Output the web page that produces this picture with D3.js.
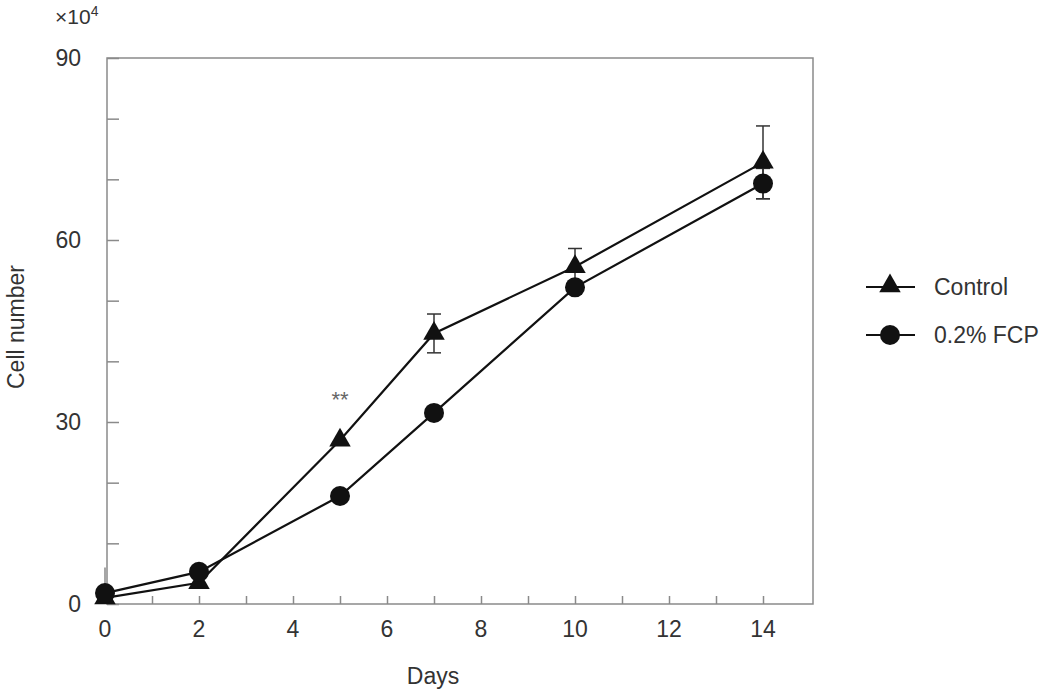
<!DOCTYPE html>
<html>
  <head>
    <script src="https://d3js.org/d3.v7.min.js"></script>
    <style>
      body { margin: 0; background: #fff; }
      text { font-family: "Liberation Sans", Arial, sans-serif; fill: #333; }
    </style>
  </head>
  <body>
    <div id="chart"></div>
    <script>
      // Data (cell number, x10^4)
      const days = [0, 2, 5, 7, 10, 14];
      const control = [1.0, 3.5, 27.0, 44.6, 55.6, 72.8];
      const controlErr = [5.0, 0, 0, 3.2, 3.0, 6.0];
      const fcp = [1.8, 5.3, 17.8, 31.5, 52.2, 69.3];
      const fcpErr = [0, 0, 0, 0, 0, 2.5];
      const xTicks = [0, 2, 4, 6, 8, 10, 12, 14];
      const yTicks = [0, 30, 60, 90];

      const W = 1050, H = 692;
      const svg = d3.select("#chart").append("svg")
        .attr("width", W).attr("height", H);

      const x = d3.scaleLinear().domain([0, 15]).range([105, 810]);
      const y = d3.scaleLinear().domain([0, 90]).range([604, 58]);
      const axisColor = "#8a8a8a";
      const fs = 23;

      // plot frame
      svg.append("rect")
        .attr("x", 107).attr("y", y(90))
        .attr("width", 813 - 107).attr("height", y(0) - y(90))
        .attr("fill", "none").attr("stroke", axisColor).attr("stroke-width", 1.5);

      // y axis, ticks pointing inside
      const yAxis = svg.append("g").attr("transform", "translate(107,0)")
        .call(d3.axisRight(y).tickValues(d3.range(0, 91, 10)).tickSize(12).tickFormat(""));
      yAxis.select(".domain").remove();
      yAxis.selectAll("line").attr("stroke", axisColor).attr("stroke-width", 1.5);
      svg.selectAll(".ylab").data(yTicks).enter().append("text")
        .attr("x", 81).attr("y", d => y(d)).attr("dy", "0.35em")
        .attr("text-anchor", "end").attr("font-size", fs).text(d => d);

      // x axis, ticks pointing up
      const xAxis = svg.append("g").attr("transform", `translate(0,${y(0)})`)
        .call(d3.axisTop(x).tickValues(d3.range(1, 15, 1)).tickSize(8).tickFormat(""));
      xAxis.select(".domain").remove();
      xAxis.selectAll("line").attr("stroke", axisColor).attr("stroke-width", 1.5);
      svg.selectAll(".xlab").data(xTicks).enter().append("text")
        .attr("x", d => x(d)).attr("y", 629).attr("dy", "0.35em")
        .attr("text-anchor", "middle").attr("font-size", fs).text(d => d);

      // axis titles
      svg.append("text").attr("x", 433).attr("y", 676).attr("dy", "0.35em")
        .attr("text-anchor", "middle").attr("font-size", fs).text("Days");
      svg.append("text")
        .attr("transform", "translate(16,327) rotate(-90)").attr("dy", "0.35em")
        .attr("text-anchor", "middle").attr("font-size", fs).text("Cell number");
      const mult = svg.append("text").attr("x", 55).attr("y", 24).attr("font-size", 21);
      mult.append("tspan").text("×10");
      mult.append("tspan").attr("font-size", 14).attr("dy", -8).text("4");

      // error bars
      function errorBars(vals, errs, capW) {
        days.forEach((d, i) => {
          if (!errs[i]) return;
          const cx = x(d), top = y(vals[i] + errs[i]), bot = y(Math.max(0, vals[i] - errs[i]));
          svg.append("line").attr("x1", cx).attr("x2", cx).attr("y1", top).attr("y2", bot)
            .attr("stroke", d === 0 ? "#888" : "#333").attr("stroke-width", 1.5);
          if (d !== 0) {
            [top, bot].forEach(yy => svg.append("line")
              .attr("x1", cx - capW).attr("x2", cx + capW).attr("y1", yy).attr("y2", yy)
              .attr("stroke", "#333").attr("stroke-width", 1.5));
          }
        });
      }
      errorBars(control, controlErr, 7);
      errorBars(fcp, fcpErr, 7);

      const line = d3.line().x(d => x(d[0])).y(d => y(d[1]));
      const ctlPts = days.map((d, i) => [d, control[i]]);
      const fcpPts = days.map((d, i) => [d, fcp[i]]);

      svg.append("path").datum(ctlPts).attr("d", line)
        .attr("fill", "none").attr("stroke", "#111").attr("stroke-width", 2.2);
      svg.append("path").datum(fcpPts).attr("d", line)
        .attr("fill", "none").attr("stroke", "#111").attr("stroke-width", 2.2);

      const tri = d3.symbol().type(d3.symbolTriangle).size(200);
      svg.selectAll(".tri").data(ctlPts).enter().append("path")
        .attr("d", tri).attr("transform", d => `translate(${x(d[0])},${y(d[1])})`)
        .attr("fill", "#111");
      svg.selectAll(".dot").data(fcpPts).enter().append("circle")
        .attr("cx", d => x(d[0])).attr("cy", d => y(d[1])).attr("r", 10)
        .attr("fill", "#111");

      // significance mark
      svg.append("text").attr("x", x(5)).attr("y", 407).attr("text-anchor", "middle")
        .attr("font-size", 22).style("fill", "#666").text("**");

      // legend
      const legend = [
        { name: "Control", sym: "tri", y: 287 },
        { name: "0.2% FCP", sym: "dot", y: 335 }
      ];
      legend.forEach(l => {
        svg.append("line").attr("x1", 866).attr("x2", 915).attr("y1", l.y).attr("y2", l.y)
          .attr("stroke", "#111").attr("stroke-width", 2);
        if (l.sym === "tri") {
          svg.append("path").attr("d", tri).attr("transform", `translate(890,${l.y - 1})`).attr("fill", "#111");
        } else {
          svg.append("circle").attr("cx", 890).attr("cy", l.y).attr("r", 10).attr("fill", "#111");
        }
        svg.append("text").attr("x", 934).attr("y", l.y).attr("dy", "0.35em")
          .attr("font-size", fs).text(l.name);
      });
    </script>
  </body>
</html>
